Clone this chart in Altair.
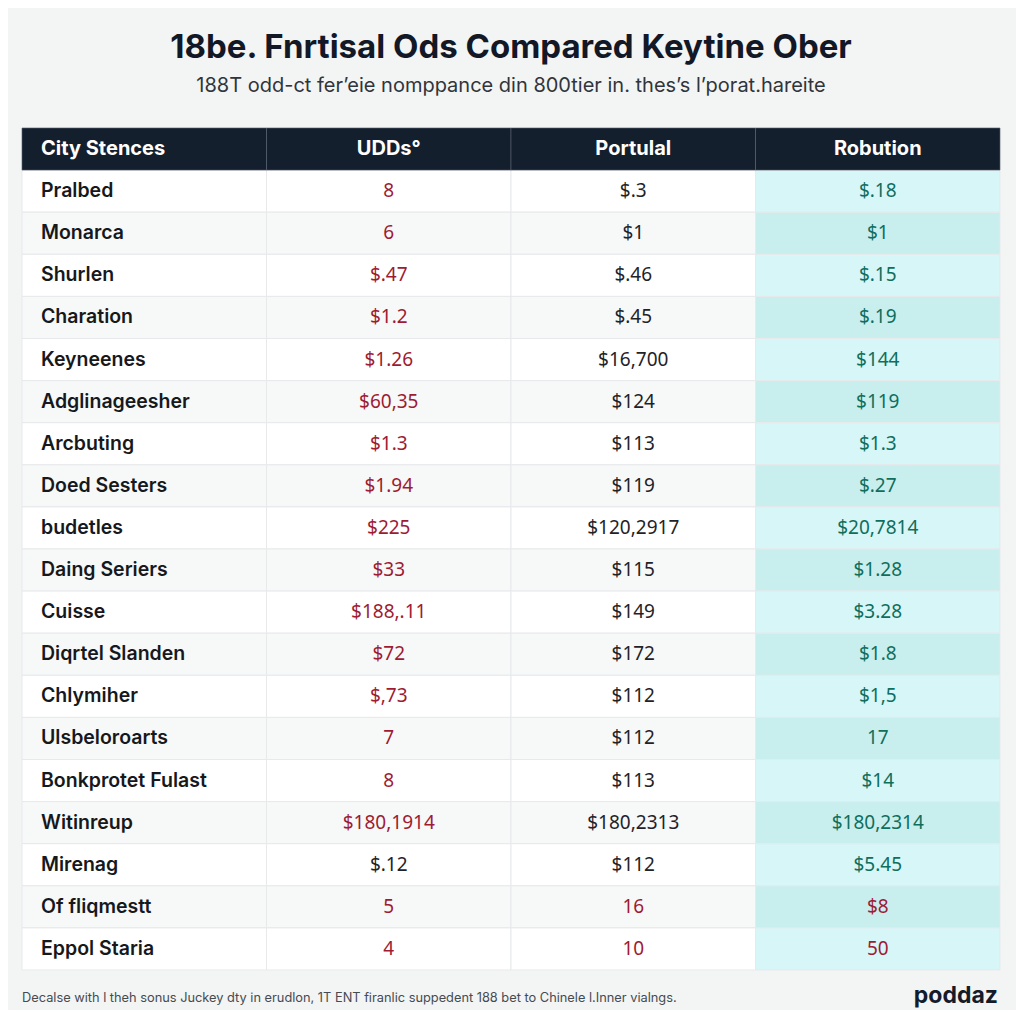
import altair as alt
import pandas as pd

title_text = "18be. Fnrtisal Ods Compared Keytine Ober"
subtitle_text = "188T odd-ct fer\u2019eie nomppance din 800tier in. thes\u2019s l\u2019porat.hareite"
footer_note = "Decalse with l theh sonus Juckey dty in erudlon, 1T ENT firanlic suppedent 188 bet to Chinele l.Inner vialngs."
brand = "poddaz"

headers = ["City Stences", "UDDs\u00b0", "Portulal", "Robution"]

cities = ["Pralbed", "Monarca", "Shurlen", "Charation", "Keyneenes", "Adglinageesher",
          "Arcbuting", "Doed Sesters", "budetles", "Daing Seriers", "Cuisse",
          "Diqrtel Slanden", "Chlymiher", "Ulsbeloroarts", "Bonkprotet Fulast",
          "Witinreup", "Mirenag", "Of fliqmestt", "Eppol Staria"]

udds = ["8", "6", "$.47", "$1.2", "$1.26", "$60,35", "$1.3", "$1.94", "$225", "$33",
        "$188,.11", "$72", "$,73", "7", "8", "$180,1914", "$.12", "5", "4"]
portulal = ["$.3", "$1", "$.46", "$.45", "$16,700", "$124", "$113", "$119", "$120,2917",
            "$115", "$149", "$172", "$112", "$112", "$113", "$180,2313", "$112", "16", "10"]
robution = ["$.18", "$1", "$.15", "$.19", "$144", "$119", "$1.3", "$.27", "$20,7814",
            "$1.28", "$3.28", "$1.8", "$1,5", "17", "$14", "$180,2314", "$5.45", "$8", "50"]

# tone of each value: neg / neu / pos
udds_tone = ["neg"] * 16 + ["neu"] + ["neg"] * 2
portulal_tone = ["neu"] * 17 + ["neg"] * 2
robution_tone = ["pos"] * 17 + ["neg"] * 2

HEADER_KEY = "__header__"
row_order = [HEADER_KEY] + cities
col_keys = ["c0", "c1", "c2", "c3"]

recs = []
for j, h in enumerate(headers):
    recs.append({"row": HEADER_KEY, "col": col_keys[j], "label": h, "tone": "head",
                 "shade": "head", "kind": "head", "first": j == 0})
value_cols = [(udds, udds_tone), (portulal, portulal_tone), (robution, robution_tone)]
for i, city in enumerate(cities):
    parity = "a" if i % 2 == 0 else "b"
    recs.append({"row": city, "col": "c0", "label": city, "tone": "name",
                 "shade": "plain_" + parity, "kind": "body", "first": True})
    for j, (vals, tones) in enumerate(value_cols):
        shade = ("cyan_" if j == 2 else "plain_") + parity
        recs.append({"row": city, "col": col_keys[j + 1], "label": vals[i], "tone": tones[i],
                     "shade": shade, "kind": "body", "first": False})
df = pd.DataFrame(recs)

x_enc = alt.X("col:N", sort=col_keys, axis=None,
              scale=alt.Scale(paddingInner=0, paddingOuter=0))
y_enc = alt.Y("row:N", sort=row_order, axis=None,
              scale=alt.Scale(paddingInner=0, paddingOuter=0))
x_left = alt.X("col:N", sort=col_keys, axis=None, bandPosition=0,
               scale=alt.Scale(paddingInner=0, paddingOuter=0))

shade_scale = alt.Scale(
    domain=["head", "plain_a", "plain_b", "cyan_a", "cyan_b"],
    range=["#141f2e", "#ffffff", "#f7f8f8", "#d6f6f8", "#c9eeee"])
tone_scale = alt.Scale(
    domain=["head", "name", "neg", "neu", "pos"],
    range=["#ffffff", "#16181c", "#9e1b32", "#1f2328", "#0f6e5c"])

base = alt.Chart(df)

cells = base.mark_rect(stroke="#e7e9eb", strokeWidth=1).encode(
    x=x_enc, y=y_enc,
    fill=alt.Fill("shade:N", scale=shade_scale, legend=None))

head_sep = base.transform_filter("datum.kind == 'head'").mark_rect(
    stroke="#5a6472", strokeWidth=1, strokeOpacity=0.6).encode(
    x=x_enc, y=y_enc, fill=alt.value("#141f2e"))

first_col_body = base.transform_filter("datum.first && datum.kind == 'body'").mark_text(
    align="left", baseline="middle", dx=19, font="Inter", fontSize=19.5, fontWeight=600).encode(
    x=x_left, y=y_enc, text="label:N",
    color=alt.Color("tone:N", scale=tone_scale, legend=None))

first_col_head = base.transform_filter("datum.first && datum.kind == 'head'").mark_text(
    align="left", baseline="middle", dx=19, font="Inter", fontSize=20, fontWeight="bold").encode(
    x=x_left, y=y_enc, text="label:N",
    color=alt.Color("tone:N", scale=tone_scale, legend=None))

head_text = base.transform_filter("!datum.first && datum.kind == 'head'").mark_text(
    align="center", baseline="middle", font="Inter", fontSize=20, fontWeight="bold").encode(
    x=x_enc, y=y_enc, text="label:N",
    color=alt.Color("tone:N", scale=tone_scale, legend=None))

value_text = base.transform_filter("!datum.first && datum.kind == 'body'").mark_text(
    align="center", baseline="middle", font="Noto Sans", fontSize=19).encode(
    x=x_enc, y=y_enc, text="label:N",
    color=alt.Color("tone:N", scale=tone_scale, legend=None))

footer = alt.Chart(pd.DataFrame({"t": [footer_note]})).mark_text(
    align="left", baseline="middle", font="Inter", fontSize=12.8, color="#444b52").encode(
    x=alt.value(0), y=alt.value(870), text="t:N")

logo = alt.Chart(pd.DataFrame({"t": [brand]})).mark_text(
    align="right", baseline="middle", font="Inter", fontSize=23, fontWeight="bold",
    color="#141c2b").encode(
    x=alt.value(976), y=alt.value(868), text="t:N")

chart = alt.layer(cells, head_sep, first_col_body, first_col_head, head_text, value_text,
                  footer, logo).properties(
    width=978, height=842,
    autosize="none",
    padding={"left": 14, "top": 120, "right": 16, "bottom": 40},
    background="#f3f4f4",
    title=alt.TitleParams(
        text=title_text, subtitle=subtitle_text, anchor="middle",
        font="Inter", fontSize=33, fontWeight="bold", color="#121826",
        subtitleFont="Inter", subtitleFontSize=20, subtitleColor="#30353b",
        subtitlePadding=11, offset=32),
).configure_view(stroke=None)

chart.save("out.html", embed_options={"renderer": "svg", "actions": False})
